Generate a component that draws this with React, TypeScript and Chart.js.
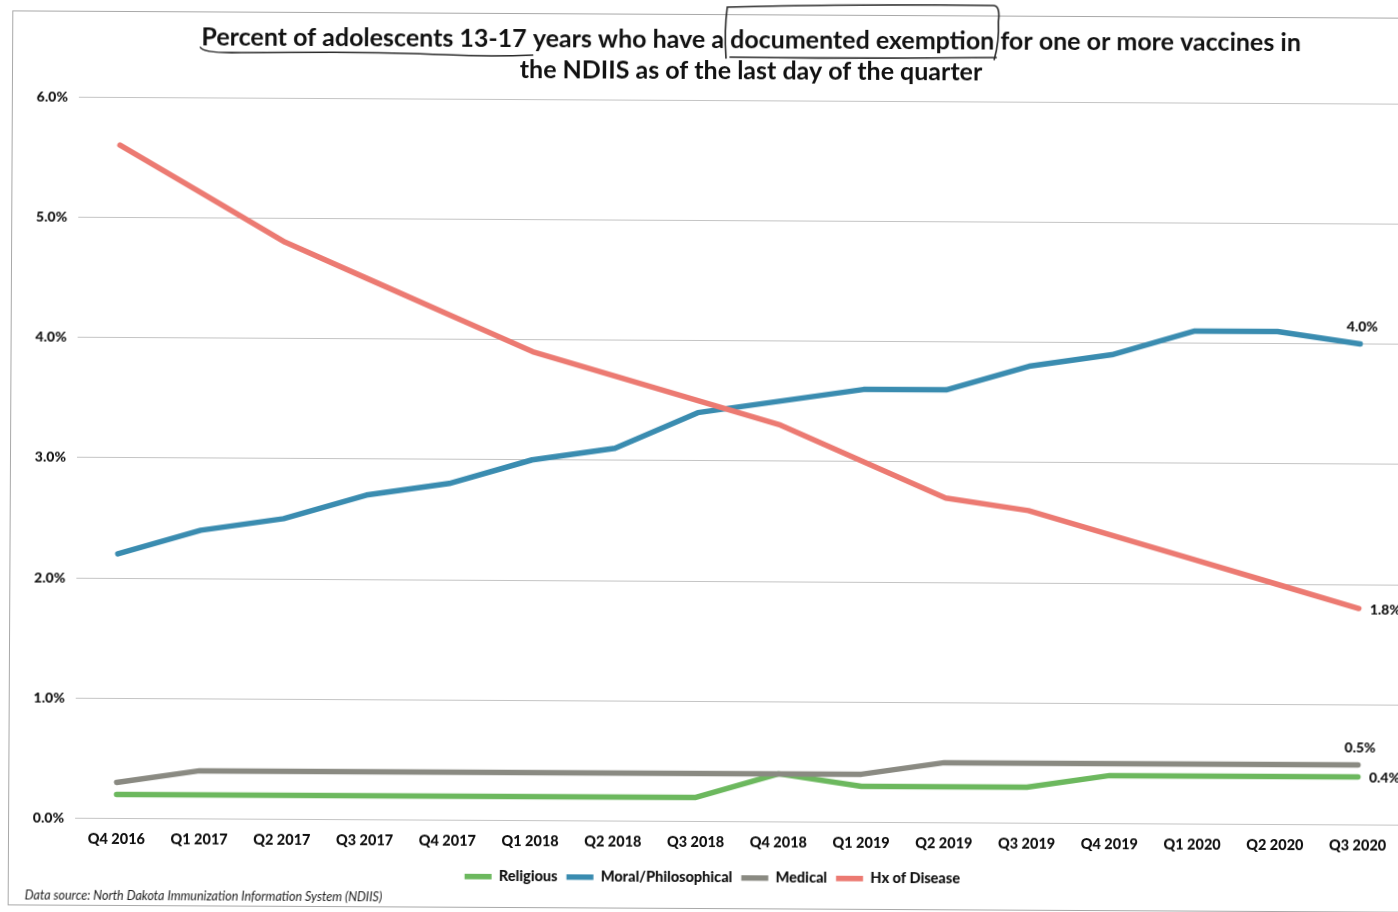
import React, { useEffect, useRef } from "react";
import { Chart, registerables } from "chart.js";

Chart.register(...registerables);

// Quarter labels along the x axis
const quarters = [
  "Q4 2016", "Q1 2017", "Q2 2017", "Q3 2017", "Q4 2017",
  "Q1 2018", "Q2 2018", "Q3 2018", "Q4 2018",
  "Q1 2019", "Q2 2019", "Q3 2019", "Q4 2019",
  "Q1 2020", "Q2 2020", "Q3 2020",
];

// Percent of adolescents with each exemption type
const religious = [0.2, 0.2, 0.2, 0.2, 0.2, 0.2, 0.2, 0.2, 0.4, 0.3, 0.3, 0.3, 0.4, 0.4, 0.4, 0.4];
const moralPhilosophical = [2.2, 2.4, 2.5, 2.7, 2.8, 3.0, 3.1, 3.4, 3.5, 3.6, 3.6, 3.8, 3.9, 4.1, 4.1, 4.0];
const medical = [0.3, 0.4, 0.4, 0.4, 0.4, 0.4, 0.4, 0.4, 0.4, 0.4, 0.5, 0.5, 0.5, 0.5, 0.5, 0.5];
const hxOfDisease = [5.6, 5.2, 4.8, 4.5, 4.2, 3.9, 3.7, 3.5, 3.3, 3.0, 2.7, 2.6, 2.4, 2.2, 2.0, 1.8];

const seriesNames = ["Religious", "Moral/Philosophical", "Medical", "Hx of Disease"];
const yTickMin = 0;
const yTickMax = 6;
const yTickStep = 1;

const titleLines = [
  "Percent of adolescents 13-17 years who have a documented exemption for one or more vaccines in",
  "the NDIIS as of the last day of the quarter",
];
const underlinedPhrase = "Percent of adolescents 13-17";
const boxedPrefix = "Percent of adolescents 13-17 years who have a ";
const boxedPhrase = "documented exemption";
const sourceNote = "Data source: North Dakota Immunization Information System (NDIIS)";

const FONT = "Lato, 'Open Sans', sans-serif";
const INK = "#111111";
const GRID = "#c4c4c4";
const HEAVY = "900";

// Where each series' final value label sits relative to its last point
const endLabelSide = ["right", "above", "above", "right"];

const decorations = {
  id: "decorations",
  beforeDraw(chart: any) {
    const ctx = chart.ctx as CanvasRenderingContext2D;
    ctx.save();
    ctx.fillStyle = "#ffffff";
    ctx.fillRect(0, 0, chart.width, chart.height);

    // frame
    ctx.strokeStyle = "#a8a8a8";
    ctx.lineWidth = 1;
    ctx.strokeRect(10.5, 14.5, chart.width + 40, 894);

    // title
    ctx.fillStyle = INK;
    ctx.font = `bold 25px ${FONT}`;
    ctx.textBaseline = "middle";
    ctx.textAlign = "left";
    const cx = 749;
    const w1 = ctx.measureText(titleLines[0]).width;
    const x1 = cx - w1 / 2;
    ctx.fillText(titleLines[0], x1, 40);
    const w2 = ctx.measureText(titleLines[1]).width;
    ctx.fillText(titleLines[1], cx - w2 / 2, 71);

    // pen marks around the title
    const uw = ctx.measureText(underlinedPhrase).width;
    const bx0 = x1 + ctx.measureText(boxedPrefix).width - 4;
    const bx1 = bx0 + ctx.measureText(boxedPhrase).width + 8;
    ctx.strokeStyle = "#2a2a2a";
    ctx.lineWidth = 1.6;
    ctx.lineCap = "round";
    ctx.beginPath();
    ctx.moveTo(x1 - 1, 50);
    ctx.quadraticCurveTo(x1 + 2, 56, x1 + 40, 55);
    ctx.quadraticCurveTo(x1 + uw * 0.5, 53, x1 + uw * 0.75, 56);
    ctx.quadraticCurveTo(x1 + uw * 0.9, 58, x1 + uw + 6, 56);
    ctx.stroke();
    ctx.beginPath();
    ctx.moveTo(bx0, 58);
    ctx.quadraticCurveTo(bx0 - 2, 30, bx0 + 1, 7);
    ctx.quadraticCurveTo((bx0 + bx1) / 2, 3, bx1 - 6, 4);
    ctx.quadraticCurveTo(bx1 + 2, 3, bx1, 20);
    ctx.quadraticCurveTo(bx1 + 1, 40, bx1 - 4, 58);
    ctx.stroke();
    ctx.beginPath();
    ctx.moveTo(bx0 + 4, 57);
    ctx.quadraticCurveTo((bx0 + bx1) / 2, 58, bx1 - 2, 56);
    ctx.stroke();

    // source note
    ctx.fillStyle = "#222222";
    ctx.font = `italic 12.5px ${FONT}`;
    ctx.textAlign = "left";
    ctx.fillText(sourceNote, 27, 899);
    ctx.restore();
  },
};

const endLabels = {
  id: "endLabels",
  afterDatasetsDraw(chart: any) {
    const ctx = chart.ctx as CanvasRenderingContext2D;
    ctx.save();
    ctx.fillStyle = INK;
    ctx.font = `${HEAVY} 14px ${FONT}`;
    chart.data.datasets.forEach((ds: any, i: number) => {
      const meta = chart.getDatasetMeta(i);
      const pt = meta.data[meta.data.length - 1];
      const value = ds.data[ds.data.length - 1] as number;
      const text = `${value.toFixed(1)}%`;
      if (endLabelSide[i] === "above") {
        ctx.textAlign = "center";
        ctx.textBaseline = "middle";
        ctx.fillText(text, pt.x + 2, pt.y - 17);
      } else {
        ctx.textAlign = "left";
        ctx.textBaseline = "middle";
        ctx.fillText(text, pt.x + 11, pt.y + 1);
      }
    });
    ctx.restore();
  },
};

export default function App() {
  const canvasRef = useRef<HTMLCanvasElement | null>(null);

  useEffect(() => {
    const canvas = canvasRef.current;
    if (!canvas) return;
    const line = (label: string, data: number[], color: string, order: number) => ({
      label,
      data,
      borderColor: color,
      backgroundColor: color,
      borderWidth: 5.5,
      borderCapStyle: "round" as const,
      borderJoinStyle: "round" as const,
      pointRadius: 0,
      pointHoverRadius: 0,
      pointStyle: "line" as const,
      tension: 0,
      order,
    });
    const chart = new Chart(canvas, {
      type: "line",
      data: {
        labels: quarters,
        datasets: [
          line(seriesNames[0], religious, "#6cb85e", 3),
          line(seriesNames[1], moralPhilosophical, "#3a8cb0", 2),
          line(seriesNames[2], medical, "#8a8a82", 1),
          line(seriesNames[3], hxOfDisease, "#ec7a72", 0),
        ],
      },
      options: {
        responsive: false,
        animation: false,
        devicePixelRatio: 1,
        layout: { padding: { top: 100, right: 29, left: 28, bottom: 17 } },
        plugins: {
          title: { display: false },
          tooltip: { enabled: false },
          legend: {
            position: "bottom",
            labels: {
              usePointStyle: true,
              pointStyle: "line",
              pointStyleWidth: 27,
              boxHeight: 15,
              padding: 9,
              color: INK,
              font: { family: FONT, size: 14.5, weight: HEAVY },
              sort: (a: any, b: any) => a.datasetIndex - b.datasetIndex,
            },
          },
        },
        scales: {
          x: {
            offset: true,
            grid: { display: false, drawTicks: false },
            border: { display: false },
            ticks: {
              color: INK,
              font: { family: FONT, size: 14.5, weight: HEAVY },
              padding: 12,
              maxRotation: 0,
              autoSkip: false,
            },
            afterFit: (scale: any) => {
              scale.height = 40;
            },
          },
          y: {
            min: yTickMin,
            max: yTickMax,
            grid: { color: GRID, lineWidth: 1, drawTicks: false },
            border: { display: false },
            ticks: {
              stepSize: yTickStep,
              color: INK,
              font: { family: FONT, size: 14, weight: HEAVY },
              padding: 11,
              callback: (v: any) => `${Number(v).toFixed(1)}%`,
            },
            afterFit: (scale: any) => {
              scale.width = 49;
            },
          },
        },
      },
      plugins: [decorations, endLabels],
    });
    return () => chart.destroy();
  }, []);

  return (
    <div
      style={{
        position: "fixed",
        left: 0,
        top: 0,
        width: 1398,
        height: 912,
        overflow: "hidden",
        background: "#ffffff",
      }}
    >
      <div style={{ width: 1430, height: 912, transform: "rotate(0.3deg)", transformOrigin: "700px 456px" }}>
        <canvas ref={canvasRef} width={1430} height={912} style={{ display: "block", width: 1430, height: 912 }} />
      </div>
    </div>
  );
}
